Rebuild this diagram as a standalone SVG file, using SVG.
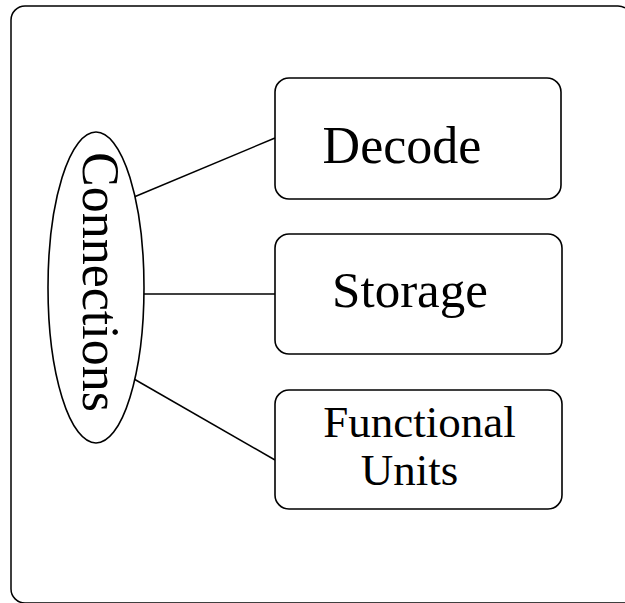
<svg xmlns="http://www.w3.org/2000/svg" width="625" height="603" viewBox="0 0 625 603">
<style>
.frame{fill:none;stroke:#000;stroke-width:1.5}
.box{fill:#fff;stroke:#000;stroke-width:1.6}
.conn line{stroke:#000;stroke-width:1.5}
text{font-family:"Liberation Serif","Times New Roman",serif;fill:#000}
</style>
<rect x="0" y="0" width="625" height="603" fill="#fff"/>
<path class="frame" d="M625 7.9 A14 14 0 0 0 618 6 H25 A14 14 0 0 0 11 20 V589 A14 14 0 0 0 25 603 H625"/>
<g class="conn" id="connectors">
<line x1="134" y1="197" x2="275" y2="138"/>
<line x1="144" y1="294" x2="275" y2="294"/>
<line x1="134" y1="379" x2="275" y2="460"/>
</g>
<g id="connections">
<ellipse class="box" cx="96" cy="287.5" rx="48" ry="155.5"/>
<text x="282" y="-83" font-size="52" text-anchor="middle" transform="rotate(90)">Connections</text>
</g>
<g id="decode">
<rect class="box" x="275" y="78" width="286" height="121" rx="14"/>
<text x="402" y="163" font-size="52" text-anchor="middle">Decode</text>
</g>
<g id="storage">
<rect class="box" x="275" y="234" width="287" height="120" rx="14"/>
<text x="410" y="307" font-size="51" text-anchor="middle">Storage</text>
</g>
<g id="functional-units">
<rect class="box" x="275" y="390" width="287" height="119" rx="14"/>
<text x="419.5" y="437" font-size="45" text-anchor="middle">Functional</text>
<text x="409.5" y="485" font-size="45" text-anchor="middle">Units</text>
</g>
</svg>
